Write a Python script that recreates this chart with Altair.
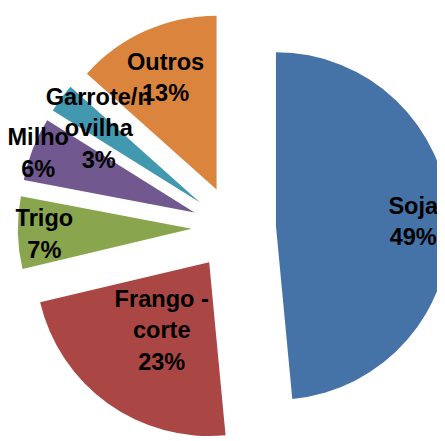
import altair as alt
import pandas as pd

# Data
categories = ["Soja", "Frango - corte", "Trigo", "Milho", "Garrote/novilha", "Outros"]
label_lines = ["Soja", "Frango -|corte", "Trigo", "Milho", "Garrote/n|ovilha", "Outros"]
shares = [48.5, 22.8, 6.7, 5.9, 2.7, 13.4]
colors = ["#4572A7", "#AA4643", "#89A54E", "#71588F", "#4198AF", "#DB843D"]

# Layout parameters
W, H = 437, 433
CX, CY = 230, 220
R = 177
EXPLODE = 43
LINE_H = 32
# distance of each data label from its slice's apex (Excel-like best fit)
label_dist = [140, 83, 150, 171, 129, 127]

df = pd.DataFrame({
    "category": categories,
    "lines": label_lines,
    "share": shares,
    "order": list(range(len(categories))),
    "ldist": label_dist,
})

base = (
    alt.Chart(df)
    .transform_window(cum="sum(share)", sort=[alt.SortField("order")], frame=[None, 0])
    .transform_joinaggregate(total="sum(share)")
    .transform_calculate(t1="2*PI*datum.cum/datum.total")
    .transform_calculate(t0="2*PI*(datum.cum-datum.share)/datum.total")
    .transform_calculate(tm="(datum.t0+datum.t1)/2")
    .transform_calculate(px=f"{CX}+{EXPLODE}*sin(datum.tm)")
    .transform_calculate(py=f"{CY}-{EXPLODE}*cos(datum.tm)")
    .transform_calculate(label="datum.lines + '|' + format(datum.share, '.0f') + '%'")
    .transform_calculate(nlines="length(split(datum.label, '|'))")
    .transform_calculate(lx="datum.px + datum.ldist*sin(datum.tm)")
    .transform_calculate(ly=f"datum.py - datum.ldist*cos(datum.tm) - (datum.nlines-1)*{LINE_H}/2")
)

arcs = base.mark_arc(radius=R).encode(
    x=alt.X("px:Q", scale=None, axis=None),
    y=alt.Y("py:Q", scale=None, axis=None),
    theta=alt.Theta("t0:Q", scale=None),
    theta2="t1:Q",
    color=alt.Color("category:N", scale=alt.Scale(domain=categories, range=colors), legend=None),
)

labels = base.mark_text(
    font="Liberation Sans Narrow, Arial Narrow, Liberation Sans, Arial",
    fontSize=24,
    fontWeight="bold",
    lineBreak="|",
    lineHeight=LINE_H,
    color="black",
    align="center",
    baseline="middle",
    dy=3,
).encode(
    x=alt.X("lx:Q", scale=None, axis=None),
    y=alt.Y("ly:Q", scale=None, axis=None),
    text="label:N",
)

chart = (
    alt.layer(arcs, labels)
    .properties(width=W, height=H, padding=0, autosize="none")
    .configure_view(strokeWidth=0)
)

chart.save("out.html", embed_options={"renderer": "svg", "actions": False})
